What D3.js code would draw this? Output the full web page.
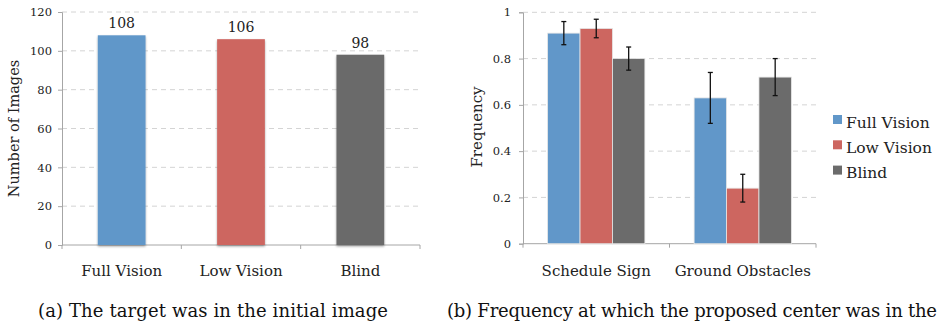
<!DOCTYPE html>
<html lang="en">
<head>
    <meta charset="UTF-8">
    <script src="https://d3js.org/d3.v7.min.js"></script>
    <title>Vision study charts</title>
    <style>
        body { margin: 0; background: #fff; }
        svg { display: block; }
    </style>
</head>
<body>
    <script>
        // --- data ---
        var categoriesA = ["Full Vision", "Low Vision", "Blind"]
        var imageCounts = [108, 106, 98]
        var yTicksA = [0, 20, 40, 60, 80, 100, 120]

        var groupsB = ["Schedule Sign", "Ground Obstacles"]
        var seriesB = ["Full Vision", "Low Vision", "Blind"]
        var fullVision = [0.91, 0.63]
        var lowVision = [0.93, 0.24]
        var blind = [0.80, 0.72]
        var fullVisionErr = [0.05, 0.11]
        var lowVisionErr = [0.04, 0.06]
        var blindErr = [0.05, 0.08]
        var yTicksB = [0, 0.2, 0.4, 0.6, 0.8, 1]

        var captionA = "(a) The target was in the initial image"
        var captionB = "(b) Frequency at which the proposed center was in the"

        var colors = ["#6197c9", "#cd6660", "#6b6b6b"]
        var font = "'DejaVu Serif', serif"
        var axisColor = "#a6a6a6"
        var gridColor = "#d4d4d4"

        var svg = d3.select("body")
            .append("svg")
            .attr("width", 939)
            .attr("height", 327)
            .style("font-family", font)

        // soft shadow under the left bars
        var defs = svg.append("defs")
        var filter = defs.append("filter")
            .attr("id", "shadow")
            .attr("x", "-10%").attr("y", "-10%")
            .attr("width", "120%").attr("height", "130%")
        filter.append("feDropShadow")
            .attr("dx", 0).attr("dy", 1.5)
            .attr("stdDeviation", 1.2)
            .attr("flood-color", "#000")
            .attr("flood-opacity", 0.35)

        // ================= chart (a) =================
        var a = { left: 62, right: 420, top: 12, bottom: 245 }

        var yA = d3.scaleLinear()
            .domain([0, 120])
            .range([a.bottom, a.top])

        var xA = d3.scaleBand()
            .domain(categoriesA)
            .range([a.left, a.right])
            .paddingInner(0.6)
            .paddingOuter(0.3)

        var gA = svg.append("g")

        // dashed gridlines
        gA.selectAll(".grid")
            .data(yTicksA.filter(function (d) { return d > 0 }))
            .enter()
            .append("line")
            .attr("x1", a.left)
            .attr("x2", a.right)
            .attr("y1", function (d) { return yA(d) })
            .attr("y2", function (d) { return yA(d) })
            .attr("stroke", gridColor)
            .attr("stroke-dasharray", "5,4")

        // y axis
        gA.append("g")
            .attr("transform", "translate(" + a.left + ",0)")
            .call(d3.axisLeft(yA).tickValues(yTicksA).tickSize(4).tickPadding(6))
            .call(styleAxis)

        // x axis with ticks at band edges
        var edgesA = d3.range(categoriesA.length + 1).map(function (i) {
            return a.left + i * (a.right - a.left) / categoriesA.length
        })
        gA.append("line")
            .attr("x1", a.left).attr("x2", a.right)
            .attr("y1", a.bottom).attr("y2", a.bottom)
            .attr("stroke", axisColor)
        gA.selectAll(".xtick")
            .data(edgesA)
            .enter()
            .append("line")
            .attr("x1", function (d) { return d })
            .attr("x2", function (d) { return d })
            .attr("y1", a.bottom)
            .attr("y2", a.bottom + 4)
            .attr("stroke", axisColor)

        gA.selectAll(".bar")
            .data(imageCounts)
            .enter()
            .append("rect")
            .attr("x", function (d, i) { return xA(categoriesA[i]) })
            .attr("y", function (d) { return yA(d) })
            .attr("width", xA.bandwidth())
            .attr("height", function (d) { return yA(0) - yA(d) })
            .attr("fill", function (d, i) { return colors[i] })
            .attr("filter", "url(#shadow)")

        gA.selectAll(".val")
            .data(imageCounts)
            .enter()
            .append("text")
            .attr("x", function (d, i) { return xA(categoriesA[i]) + xA.bandwidth() / 2 })
            .attr("y", function (d) { return yA(d) - 7 })
            .attr("text-anchor", "middle")
            .attr("font-size", "14px")
            .attr("fill", "#222")
            .text(function (d) { return d })

        gA.selectAll(".cat")
            .data(categoriesA)
            .enter()
            .append("text")
            .attr("x", function (d) { return xA(d) + xA.bandwidth() / 2 })
            .attr("y", 276)
            .attr("text-anchor", "middle")
            .attr("font-size", "15px")
            .attr("fill", "#222")
            .text(function (d) { return d })

        gA.append("text")
            .attr("transform", "translate(19,128.5) rotate(-90)")
            .attr("text-anchor", "middle")
            .attr("font-size", "14.5px")
            .attr("fill", "#222")
            .text("Number of Images")

        // ================= chart (b) =================
        var b = { left: 523, right: 816, top: 12.3, bottom: 243.7 }

        var yB = d3.scaleLinear()
            .domain([0, 1])
            .range([b.bottom, b.top])

        var x0 = d3.scaleBand()
            .domain(groupsB)
            .range([b.left, b.right])
            .paddingInner(0.336)
            .paddingOuter(0.168)

        var x1 = d3.scaleBand()
            .domain(seriesB)
            .range([0, x0.bandwidth()])

        var valuesB = [fullVision, lowVision, blind]
        var errorsB = [fullVisionErr, lowVisionErr, blindErr]

        // flatten to one row per bar
        var rowsB = []
        groupsB.forEach(function (g, gi) {
            seriesB.forEach(function (s, si) {
                rowsB.push({ group: g, series: s, si: si, value: valuesB[si][gi], err: errorsB[si][gi] })
            })
        })

        var gB = svg.append("g")

        gB.selectAll(".grid")
            .data(yTicksB.filter(function (d) { return d > 0 }))
            .enter()
            .append("line")
            .attr("x1", b.left)
            .attr("x2", b.right)
            .attr("y1", function (d) { return yB(d) })
            .attr("y2", function (d) { return yB(d) })
            .attr("stroke", gridColor)
            .attr("stroke-dasharray", "5,4")

        gB.append("g")
            .attr("transform", "translate(" + b.left + ",0)")
            .call(d3.axisLeft(yB).tickValues(yTicksB).tickFormat(d3.format("~g")).tickSize(4).tickPadding(8))
            .call(styleAxis)

        var edgesB = d3.range(groupsB.length + 1).map(function (i) {
            return b.left + i * (b.right - b.left) / groupsB.length
        })
        gB.append("line")
            .attr("x1", b.left).attr("x2", b.right)
            .attr("y1", b.bottom).attr("y2", b.bottom)
            .attr("stroke", axisColor)
        gB.selectAll(".xtick")
            .data(edgesB)
            .enter()
            .append("line")
            .attr("x1", function (d) { return d })
            .attr("x2", function (d) { return d })
            .attr("y1", b.bottom)
            .attr("y2", b.bottom + 4)
            .attr("stroke", axisColor)

        gB.selectAll(".bar")
            .data(rowsB)
            .enter()
            .append("rect")
            .attr("x", function (d) { return x0(d.group) + x1(d.series) })
            .attr("y", function (d) { return yB(d.value) })
            .attr("width", x1.bandwidth())
            .attr("height", function (d) { return yB(0) - yB(d.value) })
            .attr("fill", function (d) { return colors[d.si] })
            .attr("stroke", "#e6e6e6")
            .attr("stroke-width", 0.8)

        // error bars
        var eb = gB.selectAll(".err")
            .data(rowsB)
            .enter()
            .append("g")
            .attr("stroke", "#111")
            .attr("stroke-width", 1.3)
        eb.append("line")
            .attr("x1", function (d) { return x0(d.group) + x1(d.series) + x1.bandwidth() / 2 })
            .attr("x2", function (d) { return x0(d.group) + x1(d.series) + x1.bandwidth() / 2 })
            .attr("y1", function (d) { return yB(d.value + d.err) })
            .attr("y2", function (d) { return yB(d.value - d.err) })
        ;[1, -1].forEach(function (sign) {
            eb.append("line")
                .attr("x1", function (d) { return x0(d.group) + x1(d.series) + x1.bandwidth() / 2 - 2.5 })
                .attr("x2", function (d) { return x0(d.group) + x1(d.series) + x1.bandwidth() / 2 + 2.5 })
                .attr("y1", function (d) { return yB(d.value + sign * d.err) })
                .attr("y2", function (d) { return yB(d.value + sign * d.err) })
        })

        gB.selectAll(".cat")
            .data(groupsB)
            .enter()
            .append("text")
            .attr("x", function (d) { return x0(d) + x0.bandwidth() / 2 })
            .attr("y", 276)
            .attr("text-anchor", "middle")
            .attr("font-size", "15px")
            .attr("fill", "#222")
            .text(function (d) { return d })

        gB.append("text")
            .attr("transform", "translate(482,127) rotate(-90)")
            .attr("text-anchor", "middle")
            .attr("font-size", "15px")
            .attr("fill", "#222")
            .text("Frequency")

        // legend
        var legend = gB.selectAll(".legend")
            .data(seriesB)
            .enter()
            .append("g")
            .attr("transform", function (d, i) { return "translate(833," + (115 + i * 25.3) + ")" })
        legend.append("rect")
            .attr("width", 9)
            .attr("height", 9)
            .attr("fill", function (d, i) { return colors[i] })
        legend.append("text")
            .attr("x", 13)
            .attr("y", 12.5)
            .attr("font-size", "15.5px")
            .attr("fill", "#222")
            .text(function (d) { return d })

        // captions (LaTeX style, stretched to the width they take in the figure)
        svg.append("text")
            .attr("x", 38)
            .attr("y", 317)
            .attr("font-size", "18px")
            .attr("fill", "#111")
            .attr("textLength", 350)
            .attr("lengthAdjust", "spacing")
            .text(captionA)
        svg.append("text")
            .attr("x", 447)
            .attr("y", 317)
            .attr("font-size", "18px")
            .attr("fill", "#111")
            .attr("textLength", 490)
            .attr("lengthAdjust", "spacing")
            .text(captionB)

        function styleAxis(g) {
            g.select(".domain").attr("stroke", axisColor)
            g.selectAll(".tick line").attr("stroke", axisColor)
            g.selectAll(".tick text")
                .attr("fill", "#222")
                .style("font-family", font)
                .style("font-size", "11.5px")
        }
    </script>
</body>
</html>
